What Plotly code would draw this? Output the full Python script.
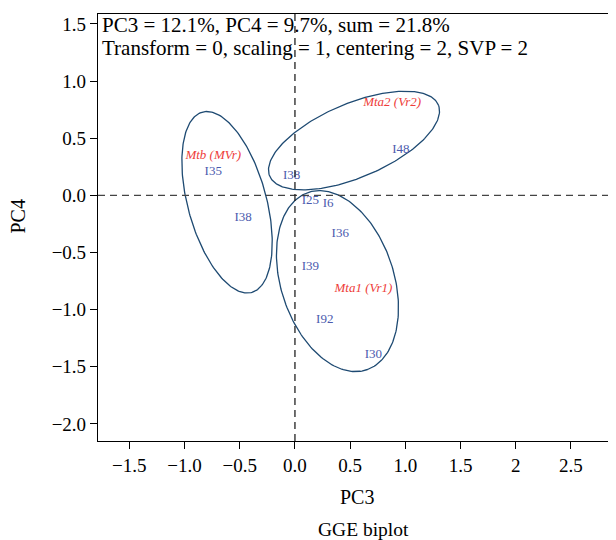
import numpy as np
import plotly.graph_objects as go

# Genotype labels (blue) and their biplot coordinates
gen_labels = ["I35", "I38", "I38", "I48", "I25", "I6", "I36", "I39", "I92", "I30"]
gen_pc3 = [-0.74, -0.47, -0.03, 0.96, 0.14, 0.30, 0.41, 0.14, 0.27, 0.71]
gen_pc4 = [0.21, -0.20, 0.17, 0.40, -0.05, -0.07, -0.34, -0.62, -1.09, -1.39]

# Group (environment) labels (red)
grp_labels = ["Mtb (MVr)", "Mta2 (Vr2)", "Mta1 (Vr1)"]
grp_pc3 = [-0.74, 0.88, 0.62]
grp_pc4 = [0.35, 0.81, -0.82]

# Group ellipses: centre, semi-axes, rotation (deg)
ell_cx = [-0.615, 0.535, 0.385]
ell_cy = [-0.06, 0.48, -0.75]
ell_a = [0.82, 0.825, 0.82]
ell_b = [0.355, 0.325, 0.51]
ell_ang = [-74.0, 22.0, -70.6]

x_ticks = [-1.5, -1.0, -0.5, 0.0, 0.5, 1.0, 1.5, 2.0, 2.5]
x_ticktext = ["\u22121.5", "\u22121.0", "\u22120.5", "0.0", "0.5", "1.0", "1.5", "2", "2.5"]
y_ticks = [1.5, 1.0, 0.5, 0.0, -0.5, -1.0, -1.5, -2.0]
y_ticktext = ["1.5", "1.0", "0.5", "0.0", "\u22120.5", "\u22121.0", "\u22121.5", "\u22122.0"]

header1 = "PC3 = 12.1%, PC4 = 9.7%, sum = 21.8%"
header2 = "Transform = 0, scaling = 1, centering = 2, SVP = 2"

FONT = "Liberation Serif"
BLUE = "#4b5aae"
RED = "#ee3d3a"
ELL = "#1e4a72"

fig = go.Figure()

t = np.linspace(0, 2 * np.pi, 241)
for cx, cy, a, b, ang in zip(ell_cx, ell_cy, ell_a, ell_b, ell_ang):
    th = np.deg2rad(ang)
    xs = cx + a * np.cos(t) * np.cos(th) - b * np.sin(t) * np.sin(th)
    ys = cy + a * np.cos(t) * np.sin(th) + b * np.sin(t) * np.cos(th)
    fig.add_trace(go.Scatter(x=xs, y=ys, mode="lines",
                             line=dict(color=ELL, width=1.3),
                             hoverinfo="skip", showlegend=False))

fig.add_trace(go.Scatter(x=gen_pc3, y=gen_pc4, mode="text", text=gen_labels,
                         textfont=dict(family=FONT, size=13, color=BLUE),
                         showlegend=False))
fig.add_trace(go.Scatter(x=grp_pc3, y=grp_pc4, mode="text",
                         text=["<i>%s</i>" % s for s in grp_labels],
                         textfont=dict(family=FONT, size=13, color=RED),
                         showlegend=False))

# dashed reference lines
fig.add_shape(type="line", xref="paper", x0=0, x1=1, yref="y", y0=0, y1=0,
              line=dict(color="#444444", width=1.3, dash="7px,5px"))
fig.add_shape(type="line", yref="paper", y0=0, y1=1, xref="x", x0=0, x1=0,
              line=dict(color="#222222", width=1.3, dash="7px,5px"))

fig.add_annotation(text=header1, xref="paper", yref="paper", x=0.003, y=0.975,
                   xanchor="left", yanchor="middle", showarrow=False,
                   font=dict(family=FONT, size=21, color="black"))
fig.add_annotation(text=header2, xref="paper", yref="paper", x=0.003, y=0.921,
                   xanchor="left", yanchor="middle", showarrow=False,
                   font=dict(family=FONT, size=21, color="black"))

fig.add_annotation(text="PC3", xref="paper", yref="paper", x=0.5, y=-0.13,
                   xanchor="center", yanchor="middle", showarrow=False,
                   font=dict(family=FONT, size=20, color="black"))
fig.add_annotation(text="GGE biplot", xref="paper", yref="paper", x=0.512, y=-0.208,
                   xanchor="center", yanchor="middle", showarrow=False,
                   font=dict(family=FONT, size=19.5, color="black"))
fig.add_annotation(text="PC4", xref="paper", yref="paper", x=-0.155, y=0.525,
                   xanchor="center", yanchor="middle", showarrow=False, textangle=-90,
                   font=dict(family=FONT, size=20, color="black"))

# The page body adds an 8px offset, so the figure is sized to fit the window.
fig.update_layout(
    width=608, height=532,
    margin=dict(l=90, r=0, t=6, b=99),
    paper_bgcolor="white", plot_bgcolor="white",
    font=dict(family=FONT, size=19, color="black"),
    xaxis=dict(range=[-1.784, 2.908], tickvals=x_ticks, ticktext=x_ticktext,
               showgrid=False, zeroline=False, showline=True, linecolor="black",
               linewidth=1.2, mirror=True, ticks="outside", ticklen=7,
               tickcolor="black", tickfont=dict(family=FONT, size=19),
               automargin=False),
    yaxis=dict(range=[-2.149, 1.587], tickvals=y_ticks, ticktext=y_ticktext,
               showgrid=False, zeroline=False, showline=True, linecolor="black",
               linewidth=1.2, ticks="outside", ticklen=7,
               tickcolor="black", tickfont=dict(family=FONT, size=19),
               automargin=False),
)

fig.write_html("out.html")
